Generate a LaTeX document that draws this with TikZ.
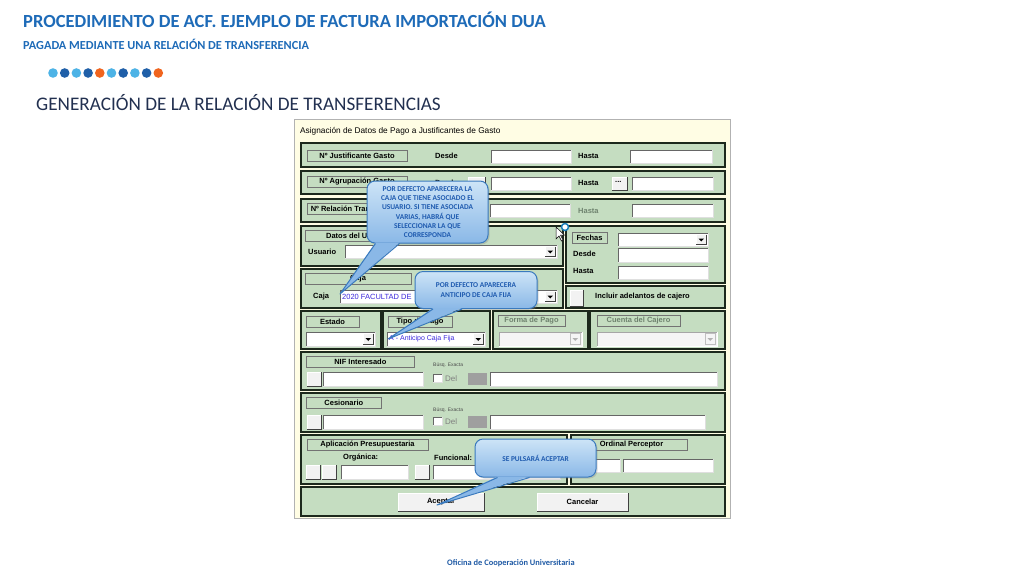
\documentclass[tikz,border=0pt]{standalone}
\usepackage{fontspec}
\setmainfont{Carlito}
\newfontfamily\winfont{Liberation Sans}
\usetikzlibrary{positioning,shadows}

\definecolor{titleblue}{RGB}{30,107,184}
\definecolor{headnavy}{RGB}{34,48,80}
\definecolor{footblue}{RGB}{31,90,165}
\definecolor{dotlight}{RGB}{77,179,230}
\definecolor{dotdark}{RGB}{31,95,168}
\definecolor{dotorange}{RGB}{240,100,30}
\definecolor{winbg}{RGB}{255,253,228}
\definecolor{panelgreen}{RGB}{197,221,193}
\definecolor{panelline}{RGB}{28,40,28}
\definecolor{calltop}{RGB}{205,228,247}
\definecolor{callbot}{RGB}{138,184,231}
\definecolor{calloutline}{RGB}{58,122,190}
\definecolor{callouttext}{RGB}{30,90,175}
\definecolor{selblue}{RGB}{60,40,220}
\definecolor{offtext}{RGB}{110,130,110}

% text field, button and combo box of the form
\newcommand{\txtfield}[4]{%
  \fill[white] (#1,#2) rectangle (#3,#4);
  \draw[gray!80!black, line width=0.6pt] (#1,#4) -- (#1,#2) -- (#3,#2);
  \draw[gray!25, line width=0.6pt] (#3,#2) -- (#3,#4) -- (#1,#4);}
\newcommand{\winbtn}[4]{%
  \fill[gray!10] (#1,#2) rectangle (#3,#4);
  \draw[white, line width=0.8pt] (#1,#4) -- (#1,#2) -- (#3,#2);
  \draw[black!75, line width=0.8pt] (#3,#2) -- (#3,#4) -- (#1,#4);}
\newcommand{\cmbbox}[4]{%
  \txtfield{#1}{#2}{#3}{#4}
  \winbtn{#3-12}{#2+1.5}{#3-1.5}{#4-1.5}
  \fill[black] (#3-9.5,{(#2+#4)/2-1}) -- (#3-4,{(#2+#4)/2-1}) -- (#3-6.75,{(#2+#4)/2+2}) -- cycle;}
\newcommand{\cmboff}[4]{%
  \fill[gray!8] (#1,#2) rectangle (#3,#4);
  \draw[gray!70, line width=0.6pt] (#1,#4) -- (#1,#2) -- (#3,#2);
  \draw[white, line width=0.6pt] (#3,#2) -- (#3,#4) -- (#1,#4);
  \draw[gray!50, line width=0.5pt] (#3-12,#2+1.5) rectangle (#3-1.5,#4-1.5);
  \fill[gray!60] (#3-9.5,{(#2+#4)/2-1}) -- (#3-4,{(#2+#4)/2-1}) -- (#3-6.75,{(#2+#4)/2+2}) -- cycle;}

\begin{document}
\begin{tikzpicture}[
    x=1pt, y=-1pt,
    panel/.style={draw=panelline, line width=1.6pt, fill=panelgreen},
    lbl/.style={draw=black!55, line width=0.7pt, fill=panelgreen,
      minimum height=11pt, inner sep=0pt,
      font=\winfont\bfseries\fontsize{7.5}{8}\selectfont},
    txt/.style={anchor=west, inner sep=0pt,
      font=\winfont\bfseries\fontsize{7.5}{8}\selectfont},
    small/.style={anchor=west, inner sep=0pt, text=black!70,
      font=\winfont\fontsize{5}{5}\selectfont},
    callout/.style={draw=calloutline, line width=1pt, rounded corners=8pt,
      top color=calltop, bottom color=callbot, inner sep=0pt,
      align=center, text=callouttext,
      font=\bfseries\fontsize{7.4}{9.3}\selectfont,
      drop shadow={opacity=0.3, shadow xshift=1.5pt, shadow yshift=-1.5pt}},
    tail/.style={draw=calloutline, line width=1pt, line join=round},
  ]
  \useasboundingbox (0,0) rectangle (1024,576);
  \fill[white] (0,0) rectangle (1024,576);

  % header
  \node[anchor=base west, inner sep=0pt, text=titleblue,
    font=\bfseries\fontsize{18.5}{20}\selectfont] (title) at (23,27)
    {PROCEDIMIENTO DE ACF. EJEMPLO DE FACTURA IMPORTACIÓN DUA};
  \node[anchor=base west, inner sep=0pt, text=titleblue,
    font=\bfseries\fontsize{12.3}{13}\selectfont] (subtitle) at (23,49)
    {PAGADA MEDIANTE UNA RELACIÓN DE TRANSFERENCIA};
  \foreach \i/\c in {0/dotlight,1/dotdark,2/dotlight,3/dotdark,4/dotorange,
                     5/dotlight,6/dotdark,7/dotlight,8/dotdark,9/dotorange}
    \fill[\c] (53+\i*11.7,73) circle (4.8pt);
  \node[anchor=base west, inner sep=0pt, text=headnavy,
    font=\fontsize{19.2}{21}\selectfont] (heading) at (36,110)
    {GENERACIÓN DE LA RELACIÓN DE TRANSFERENCIAS};

  % window
  \filldraw[fill=winbg, draw=gray!60, line width=0.8pt] (294,119) rectangle (730,518);
  \node[anchor=west, inner sep=0pt, font=\winfont\fontsize{8.3}{9}\selectfont]
    (wintitle) at (300,131) {Asignación de Datos de Pago a Justificantes de Gasto};

  \foreach \xa/\ya/\xb/\yb in {301/143/725/167, 301/171/725/194, 301/199/725/222,
      301/226/563/266, 566/226/725/283, 301/269/563/308, 566/286/725/308,
      301/311/381/349, 383/311/490/349, 493/311/588/349, 590/311/725/349,
      301/352/725/390, 301/393/725/432, 301/435/567/484, 571/435/725/484,
      301/487/725/516}
    \draw[panel] (\xa,\ya) rectangle (\xb,\yb);

  % justificante, agrupacion, relacion
  \node[lbl, minimum width=100pt] (justif) at (357,156) {Nº Justificante Gasto};
  \node[txt] (desde1) at (435,156) {Desde};
  \txtfield{491}{150}{571}{163}
  \node[txt] (hasta1) at (578,156) {Hasta};
  \txtfield{630}{150}{712}{163}

  \node[lbl, minimum width=100pt] (agrup) at (357,182) {Nº Agrupación Gasto};
  \node[txt] (desde2) at (435,183) {Desde};
  \winbtn{468}{177}{485}{190}
  \txtfield{491}{177}{571}{190}
  \node[txt] (hasta2) at (578,183) {Hasta};
  \winbtn{612}{177}{627}{190}
  \node[txt] (dots2) at (615,182) {...};
  \txtfield{632}{177}{713}{190}

  \node[lbl, minimum width=100pt] (relac) at (357,209) {Nº Relación Transferencia};
  \txtfield{490}{204}{570}{217}
  \node[txt, text=offtext] (hasta3) at (578,211) {Hasta};
  \txtfield{632}{204}{713}{217}

  % usuario, caja
  \node[lbl, minimum width=106pt] (datosusu) at (358,236) {Datos del Usuario};
  \node[txt] (usuario) at (308,252) {Usuario};
  \cmbbox{345}{245}{557}{258}
  \node[lbl, minimum width=106pt] (cajalbl) at (358,279) {Caja};
  \node[txt] (caja) at (313,297) {Caja};
  \cmbbox{340}{290}{557}{303}
  \node[txt, text=selblue, font=\winfont\fontsize{7.5}{8}\selectfont]
    (cajaval) at (342,296.5) {2020 FACULTAD DE};

  % fechas
  \node[lbl, minimum width=35pt] (fechas) at (589.5,238) {Fechas};
  \cmbbox{618}{233}{708}{246}
  \node[txt] (desde4) at (573,254) {Desde};
  \txtfield{618}{248}{708}{262}
  \node[txt] (hasta4) at (573,271) {Hasta};
  \txtfield{618}{266}{708}{279}
  \winbtn{570}{290}{583}{306}
  \node[txt] (adelantos) at (595,297) {Incluir adelantos de cajero};

  % estado, tipo, forma, cuenta
  \node[lbl, minimum width=53pt] (estado) at (332.5,322) {Estado};
  \cmbbox{306}{332}{375}{346}
  \node[lbl, minimum width=64pt] (tipo) at (420,322) {Tipo de Pago};
  \cmbbox{387}{332}{485}{346}
  \node[txt, text=selblue, font=\winfont\fontsize{7}{8}\selectfont]
    (tipoval) at (389,339) {A - Anticipo Caja Fija};
  \node[lbl, minimum width=67pt, text=offtext] (forma) at (531.5,321) {Forma de Pago};
  \cmboff{499}{332}{582}{346}
  \node[lbl, minimum width=83pt, text=offtext] (cuenta) at (638.5,321) {Cuenta del Cajero};
  \cmboff{597}{332}{717}{346}

  % interesado, cesionario
  \foreach \nm/\t/\w/\ya in {nif/NIF Interesado/108/352, ces/Cesionario/75/393} {
    \node[lbl, minimum width=\w pt, anchor=north west] (\nm) at (306,\ya+3.5) {\t};
  }
  \foreach \ya in {372,415} {
    \winbtn{307}{\ya}{321}{\ya+14}
    \txtfield{323}{\ya}{423}{\ya+14}
    \txtfield{433}{\ya+2}{442}{\ya+10.5}
    \fill[gray!75] (468,\ya+1) rectangle (487,\ya+13);
  }
  \txtfield{490}{372}{717}{386}
  \txtfield{490}{415}{705}{429}
  \node[small] (busq1) at (433,365) {Búsq. Exacta};
  \node[txt, text=gray, font=\winfont\fontsize{8}{8}\selectfont] (del1) at (445,378.5) {Del};
  \node[small] (busq2) at (433,410) {Búsq. Exacta};
  \node[txt, text=gray, font=\winfont\fontsize{8}{8}\selectfont] (del2) at (445,421.5) {Del};

  % aplicacion, ordinal
  \node[lbl, minimum width=121pt] (aplic) at (367.5,444.5) {Aplicación Presupuestaria};
  \node[txt] (organica) at (343,458) {Orgánica:};
  \node[txt] (funcional) at (434,458) {Funcional:};
  \winbtn{306}{465}{320}{479}
  \winbtn{322}{465}{336}{479}
  \txtfield{341}{465}{408}{479}
  \winbtn{415}{465}{429}{479}
  \txtfield{433}{465}{560}{479}
  \node[lbl, minimum width=111pt] (ordinal) at (631.5,444.5) {Ordinal Perceptor};
  \txtfield{575}{459}{620}{472}
  \txtfield{623}{459}{713}{472}

  % buttons
  \winbtn{398}{493}{484}{511}
  \node[txt, anchor=center] (aceptar) at (441,502) {Aceptar};
  \winbtn{537}{493}{628}{511}
  \node[txt, anchor=center] (cancelar) at (582.5,502) {Cancelar};

  % callouts
  \node[callout, minimum width=121pt, minimum height=62pt] (note1) at (427.5,212)
    {POR DEFECTO APARECERA LA\\CAJA QUE TIENE ASOCIADO EL\\USUARIO. SI TIENE ASOCIADA\\
     VARIAS, HABRÁ QUE\\SELECCIONAR LA QUE\\CORRESPONDA};
  \coordinate (tip1) at (340,294);
  \fill[callbot] ([xshift=-52pt,yshift=1pt]note1.south) -- (tip1)
    -- ([xshift=-28pt,yshift=1pt]note1.south) -- cycle;
  \draw[tail] ([xshift=-52pt]note1.south) -- (tip1) -- ([xshift=-28pt]note1.south);

  \node[callout, minimum width=122pt, minimum height=37pt] (note2) at (476,290)
    {POR DEFECTO APARECERA\\ANTICIPO DE CAJA FIJA};
  \coordinate (tip2) at (388,339);
  \fill[callbot] ([xshift=-43pt,yshift=1pt]note2.south) -- (tip2)
    -- ([xshift=-14pt,yshift=1pt]note2.south) -- cycle;
  \draw[tail] ([xshift=-43pt]note2.south) -- (tip2) -- ([xshift=-14pt]note2.south);

  \node[callout, minimum width=121pt, minimum height=38pt] (note3) at (535.5,458)
    {SE PULSARÁ ACEPTAR};
  \coordinate (tip3) at (437,505);
  \fill[callbot] ([xshift=-38pt,yshift=1pt]note3.south) -- (tip3)
    -- ([xshift=-6pt,yshift=1pt]note3.south) -- cycle;
  \draw[tail] ([xshift=-38pt]note3.south) -- (tip3) -- ([xshift=-6pt]note3.south);

  % mouse pointer
  \coordinate (cursor) at (556,227);
  \filldraw[fill=white, draw=black, line width=0.5pt] (cursor) -- ++(0,12) -- ++(3,-3)
    -- ++(2.5,5) -- ++(1.6,-0.8) -- ++(-2.5,-5) -- ++(4,0) -- cycle;
  \filldraw[fill=white, draw=dotdark!80!cyan, line width=1.5pt] (565,227) circle (3.5pt);

  % footer
  \node[anchor=base west, inner sep=0pt, text=footblue,
    font=\bfseries\fontsize{8.4}{9}\selectfont] (footer) at (447,565)
    {Oficina de Cooperación Universitaria};
\end{tikzpicture}
\end{document}
